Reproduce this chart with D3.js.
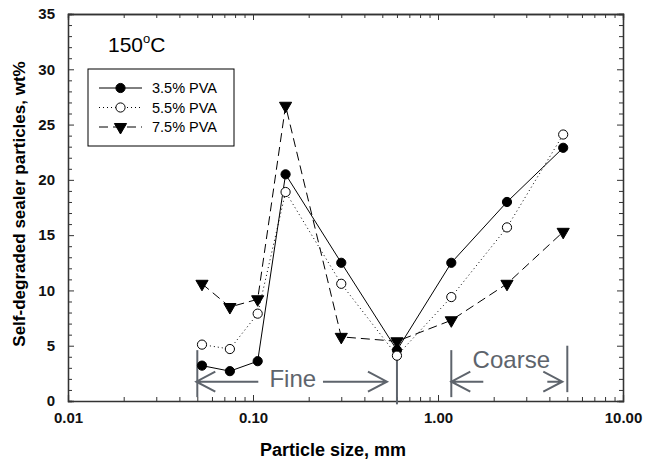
<!DOCTYPE html>
<html>
<head>
<meta charset="utf-8">
<script src="https://cdn.jsdelivr.net/npm/d3@7"></script>
<style>
  body { margin: 0; background: #fff; }
  svg { font-family: "Liberation Sans", Arial, sans-serif; }
</style>
</head>
<body>
<div id="chart"></div>
<script>
// sieve sizes (mm) and wt% of self-degraded sealer particles at 150 C
const sizes = [0.053, 0.075, 0.106, 0.15, 0.3, 0.6, 1.18, 2.36, 4.75];
const pva35 = [3.2, 2.7, 3.6, 20.5, 12.5, 4.6, 12.5, 18.0, 22.9];
const pva55 = [5.1, 4.7, 7.9, 18.9, 10.6, 4.1, 9.4, 15.7, 24.1];
const pva75 = [10.6, 8.5, 9.2, 26.7, 5.8, 5.4, 7.3, 10.6, 15.3];
const seriesNames = ["3.5% PVA", "5.5% PVA", "7.5% PVA"];
const xTicks = [0.01, 0.1, 1, 10];
const yTicks = [0, 5, 10, 15, 20, 25, 30, 35];
const fineRange = [0.05, 0.6];
const coarseRange = [1.18, 5.0];

const width = 645, height = 461;
const margin = { left: 68, right: 22, top: 14, bottom: 60 };

const svg = d3.select("#chart").append("svg")
  .attr("width", width)
  .attr("height", height);

const x = d3.scaleLog().domain([0.01, 10]).range([margin.left, width - margin.right]);
const y = d3.scaleLinear().domain([0, 35]).range([height - margin.bottom, margin.top]);

const frameColor = "#333";
const annoColor = "#5e646c";
const labelFont = "Liberation Sans, Arial, sans-serif";

// minor ticks
const xMinor = [];
[0.01, 0.1, 1].forEach(d => { for (let k = 2; k <= 9; k++) xMinor.push(d * k); });
const yMinor = d3.range(0, 36, 1).filter(v => v % 5 !== 0);

// axes: bottom/left with labels, top/right ticks only (all ticks inside)
svg.append("g")
  .attr("transform", `translate(0,${y(0)})`)
  .call(d3.axisBottom(x).tickValues(xMinor).tickSize(-4).tickFormat(""))
  .call(g => g.select(".domain").remove());
svg.append("g")
  .attr("transform", `translate(0,${y(0)})`)
  .call(d3.axisBottom(x).tickValues(xTicks).tickSize(-6).tickPadding(11).tickFormat(d3.format(".2f")))
  .call(g => g.selectAll("text").attr("font-size", 15).attr("font-weight", "bold").attr("fill", "#111")
    .attr("font-family", labelFont));
svg.append("g")
  .attr("transform", `translate(0,${y(35)})`)
  .call(d3.axisTop(x).tickValues(xMinor).tickSize(-4).tickFormat(""));
svg.append("g")
  .attr("transform", `translate(0,${y(35)})`)
  .call(d3.axisTop(x).tickValues(xTicks).tickSize(-6).tickFormat(""));

svg.append("g")
  .attr("transform", `translate(${x(0.01)},0)`)
  .call(d3.axisLeft(y).tickValues(yMinor).tickSize(-4).tickFormat(""));
svg.append("g")
  .attr("transform", `translate(${x(0.01)},0)`)
  .call(d3.axisLeft(y).tickValues(yTicks).tickSize(-6).tickPadding(13))
  .call(g => g.selectAll("text").attr("font-size", 15).attr("font-weight", "bold").attr("fill", "#111")
    .attr("font-family", labelFont));
svg.append("g")
  .attr("transform", `translate(${x(10)},0)`)
  .call(d3.axisRight(y).tickValues(yMinor).tickSize(-4).tickFormat(""));
svg.append("g")
  .attr("transform", `translate(${x(10)},0)`)
  .call(d3.axisRight(y).tickValues(yTicks).tickSize(-6).tickFormat(""));

svg.selectAll(".domain").attr("stroke", frameColor).attr("stroke-width", 1.3);
svg.selectAll(".tick line").attr("stroke", frameColor);

// axis titles
svg.append("text")
  .attr("x", 333)
  .attr("y", 456)
  .attr("text-anchor", "middle")
  .attr("font-size", 18)
  .attr("font-weight", "bold")
  .text("Particle size, mm");

svg.append("text")
  .attr("transform", "translate(25,204) rotate(-90)")
  .attr("text-anchor", "middle")
  .attr("font-size", 17)
  .attr("font-weight", "bold")
  .text("Self-degraded sealer particles, wt%");

// temperature label
const temp = svg.append("text")
  .attr("x", 108)
  .attr("y", 52)
  .attr("font-size", 21);
temp.append("tspan").text("150");
temp.append("tspan").attr("font-size", 13).attr("dy", -9).text("o");
temp.append("tspan").attr("dy", 9).text("C");

// Fine / Coarse annotations
const anno = svg.append("g")
  .attr("stroke", annoColor)
  .attr("fill", "none");
const arrowY = y(1.75);
const chev = (tip, dir) => `M${tip + dir * 19},${arrowY - 10}L${tip},${arrowY}L${tip + dir * 19},${arrowY + 10}`;

anno.append("line").attr("stroke-width", 2)
  .attr("x1", x(fineRange[0])).attr("x2", x(fineRange[0]))
  .attr("y1", y(4.6)).attr("y2", y(0.35));
anno.append("line").attr("stroke-width", 2)
  .attr("x1", x(fineRange[1])).attr("x2", x(fineRange[1]))
  .attr("y1", y(4.0)).attr("y2", y(-0.3));
anno.append("line").attr("stroke-width", 2)
  .attr("x1", x(coarseRange[0])).attr("x2", x(coarseRange[0]))
  .attr("y1", y(4.6)).attr("y2", y(0.35));
anno.append("line").attr("stroke-width", 2)
  .attr("x1", x(coarseRange[1])).attr("x2", x(coarseRange[1]))
  .attr("y1", y(5.0)).attr("y2", y(0.8));

anno.append("path").attr("stroke-width", 2)
  .attr("d", chev(x(fineRange[0]) - 1, 1) + `M${x(fineRange[0])},${arrowY}L${x(fineRange[0]) + 61},${arrowY}`);
anno.append("path").attr("stroke-width", 2)
  .attr("d", chev(x(fineRange[1]) - 10, -1) + `M${x(fineRange[1]) - 10},${arrowY}L${x(fineRange[1]) - 74},${arrowY}`);
anno.append("path").attr("stroke-width", 2)
  .attr("d", chev(x(coarseRange[0]), 1) + `M${x(coarseRange[0])},${arrowY}L${x(coarseRange[0]) + 32},${arrowY}`);
anno.append("path").attr("stroke-width", 2)
  .attr("d", chev(x(coarseRange[1]) - 5, -1) + `M${x(coarseRange[1]) - 5},${arrowY}L${x(coarseRange[1]) - 20},${arrowY}`);

svg.append("text")
  .attr("x", x(0.164))
  .attr("y", 387)
  .attr("text-anchor", "middle")
  .attr("font-size", 24)
  .attr("fill", annoColor)
  .text("Fine");
svg.append("text")
  .attr("x", x(Math.sqrt(coarseRange[0] * coarseRange[1])) + 2)
  .attr("y", 368)
  .attr("text-anchor", "middle")
  .attr("font-size", 24)
  .attr("fill", annoColor)
  .text("Coarse");

// series
const series = [
  { name: seriesNames[0], values: pva35, dash: null, marker: "circle", fill: "#000" },
  { name: seriesNames[1], values: pva55, dash: "1,3", marker: "circle", fill: "#fff" },
  { name: seriesNames[2], values: pva75, dash: "9,5", marker: "triangle", fill: "#000" }
];

const line = d3.line().x((d, i) => x(sizes[i])).y(d => y(d));
const triangle = d3.symbol().type(d3.symbolTriangle).size(64);

function drawMarker(g, s) {
  if (s.marker === "circle") {
    g.append("circle").attr("r", 4.6)
      .attr("fill", s.fill).attr("stroke", "#000").attr("stroke-width", 1);
  } else {
    g.append("path").attr("d", triangle).attr("transform", "rotate(180)")
      .attr("fill", s.fill).attr("stroke", "#000").attr("stroke-width", 1);
  }
}

series.forEach(s => {
  svg.append("path")
    .datum(s.values)
    .attr("d", line)
    .attr("fill", "none")
    .attr("stroke", "#000")
    .attr("stroke-width", 1)
    .attr("stroke-dasharray", s.dash);
});
series.forEach(s => {
  svg.append("g").selectAll("g")
    .data(s.values)
    .join("g")
      .attr("transform", (d, i) => `translate(${x(sizes[i])},${y(d)})`)
      .each(function() { drawMarker(d3.select(this), s); });
});

// legend
const legend = svg.append("g");
legend.append("rect")
  .attr("x", 88).attr("y", 69)
  .attr("width", 146).attr("height", 77)
  .attr("fill", "#fff").attr("stroke", "#000").attr("stroke-width", 1);
series.forEach((s, i) => {
  const ly = 88 + i * 19.5;
  legend.append("line")
    .attr("x1", 99).attr("x2", 142).attr("y1", ly).attr("y2", ly)
    .attr("stroke", "#000").attr("stroke-dasharray", s.dash);
  drawMarker(legend.append("g").attr("transform", `translate(120.5,${ly})`), s);
  legend.append("text")
    .attr("x", 152).attr("y", ly + 5)
    .attr("font-size", 14.5)
    .text(s.name);
});
</script>
</body>
</html>
